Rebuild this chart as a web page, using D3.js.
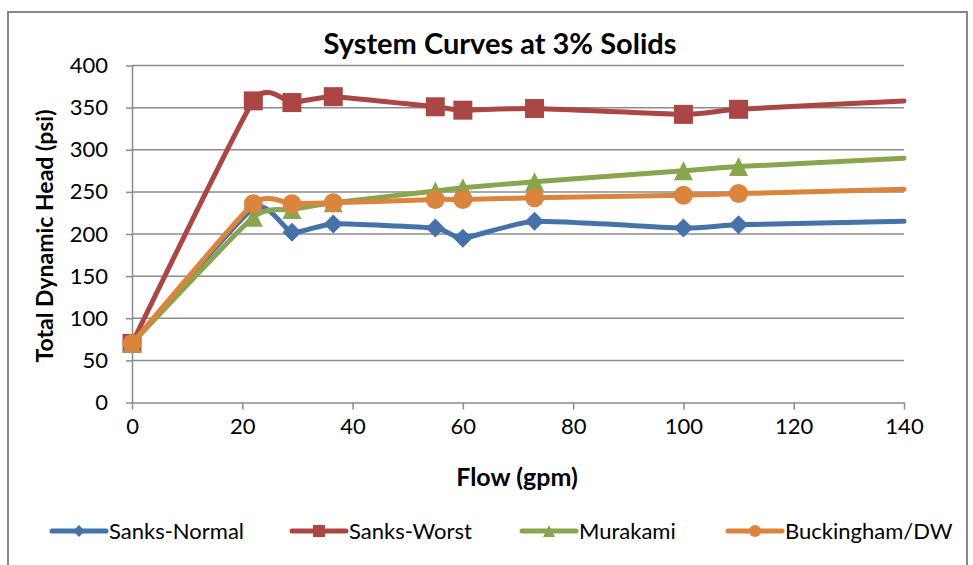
<!DOCTYPE html>
<html>
<head>
<meta charset="utf-8">
<script src="https://cdn.jsdelivr.net/npm/d3@7"></script>
<style>
  html, body { margin: 0; padding: 0; background: #fff; }
  svg { display: block; }
  text { font-family: Lato, "Open Sans", sans-serif; fill: #000; }
</style>
</head>
<body>
<svg id="chart" width="973" height="565"></svg>
<script>
// Flow points (gpm); the last one only extends each curve to the axis end
const flows = [0, 22, 29, 36.5, 55, 60, 73, 100, 110, 140];
const markedPoints = 9;

// Total dynamic head (psi) per model
const sanksNormal  = [70, 231, 202, 212, 207, 195, 215, 207, 211, 215];
const sanksWorst   = [70, 358, 356, 363, 351, 347, 349, 342, 348, 358];
const murakami     = [70, 220, 229, 237, 251, 255, 262, 275, 280, 290];
const buckinghamDW = [70, 236, 236, 237, 241, 241, 243, 246, 248, 253];

const seriesNames  = ["Sanks-Normal", "Sanks-Worst", "Murakami", "Buckingham/DW"];
const seriesValues = [sanksNormal, sanksWorst, murakami, buckinghamDW];
const seriesColors = ["#4572A7", "#AA4643", "#89A54E", "#DB843D"];
const seriesShapes = ["diamond", "square", "triangle", "circle"];

const xTicks = [0, 20, 40, 60, 80, 100, 120, 140];
const yTicks = [0, 50, 100, 150, 200, 250, 300, 350, 400];

const svg = d3.select("#chart");

// Chart frame
svg.append("rect")
  .attr("x", 8).attr("y", 12).attr("width", 959).attr("height", 570)
  .attr("fill", "none").attr("stroke", "#878787").attr("stroke-width", 2);

const plot = { left: 132, right: 904, top: 65.5, bottom: 402.5 };
const x = d3.scaleLinear().domain([0, 140]).range([plot.left, plot.right]);
const y = d3.scaleLinear().domain([0, 400]).range([plot.bottom, plot.top]);

// Horizontal gridlines
svg.append("g")
  .selectAll("line")
  .data(yTicks.filter(v => v > 0))
  .join("line")
  .attr("x1", plot.left).attr("x2", plot.right)
  .attr("y1", d => y(d)).attr("y2", d => y(d))
  .attr("stroke", "#8c8c8c").attr("stroke-width", 1.5);

// Axes
const xAxis = svg.append("g")
  .attr("transform", `translate(0,${plot.bottom})`)
  .call(d3.axisBottom(x).tickValues(xTicks).tickSize(7).tickPadding(9).tickSizeOuter(0));
const yAxis = svg.append("g")
  .attr("transform", `translate(${plot.left},0)`)
  .call(d3.axisLeft(y).tickValues(yTicks).tickSize(6).tickPadding(18).tickSizeOuter(0));

[xAxis, yAxis].forEach(g => {
  g.select(".domain").attr("stroke", "#8c8c8c").attr("stroke-width", 1.5);
  g.selectAll(".tick line").attr("stroke", "#8c8c8c").attr("stroke-width", 1.5);
  g.selectAll(".tick text")
    .attr("font-family", "Lato, sans-serif")
    .attr("font-size", 22)
    .attr("fill", "#000");
});

// Titles
svg.append("text")
  .attr("x", 500).attr("y", 54)
  .attr("text-anchor", "middle")
  .attr("font-size", 29).attr("font-weight", "bold")
  .text("System Curves at 3% Solids");

svg.append("text")
  .attr("x", 517).attr("y", 486)
  .attr("text-anchor", "middle")
  .attr("font-size", 25).attr("font-weight", "bold")
  .text("Flow (gpm)");

svg.append("text")
  .attr("transform", "translate(53,236) rotate(-90)")
  .attr("text-anchor", "middle")
  .attr("font-size", 23).attr("font-weight", "bold")
  .text("Total Dynamic Head (psi)");

// Marker drawing
function drawMarker(sel, shape, color, s) {
  if (shape === "circle") {
    sel.append("circle").attr("r", s / 2).attr("fill", color);
  } else if (shape === "square") {
    sel.append("rect").attr("x", -s / 2).attr("y", -s / 2)
      .attr("width", s).attr("height", s).attr("fill", color);
  } else if (shape === "diamond") {
    const h = s / 2;
    sel.append("path").attr("d", `M0,${-h}L${h},0L0,${h}L${-h},0Z`).attr("fill", color);
  } else if (shape === "triangle") {
    const h = s / 2;
    sel.append("path").attr("d", `M0,${-h}L${h},${h}L${-h},${h}Z`).attr("fill", color);
  }
}

const line = d3.line()
  .x(d => x(d[0]))
  .y(d => y(d[1]))
  .curve(d3.curveCardinal.tension(0.5));

const markerSizes = { diamond: 19, square: 19, triangle: 19, circle: 19 };

seriesValues.forEach((vals, i) => {
  const pts = flows.map((f, j) => [f, vals[j]]);
  const g = svg.append("g");
  g.append("path")
    .attr("d", line(pts))
    .attr("fill", "none")
    .attr("stroke", seriesColors[i])
    .attr("stroke-width", 5)
    .attr("stroke-linejoin", "round")
    .attr("stroke-linecap", "round");
  g.selectAll("g.mk")
    .data(pts.slice(0, markedPoints))
    .join("g")
    .attr("class", "mk")
    .attr("transform", d => `translate(${x(d[0])},${y(d[1])})`)
    .each(function () {
      drawMarker(d3.select(this), seriesShapes[i], seriesColors[i], markerSizes[seriesShapes[i]]);
    });
});

// Legend
const legendX = [52, 292, 522, 728];
const legend = svg.append("g").attr("transform", "translate(0,531)");
seriesNames.forEach((name, i) => {
  const g = legend.append("g").attr("transform", `translate(${legendX[i]},0)`);
  g.append("line")
    .attr("x1", 0).attr("x2", 54)
    .attr("stroke", seriesColors[i]).attr("stroke-width", 5)
    .attr("stroke-linecap", "round");
  const m = g.append("g").attr("transform", "translate(27,0)");
  drawMarker(m, seriesShapes[i], seriesColors[i], 12);
  g.append("text")
    .attr("x", 57).attr("y", 0)
    .attr("dy", "0.35em")
    .attr("font-size", 22)
    .text(name);
});
</script>
</body>
</html>
